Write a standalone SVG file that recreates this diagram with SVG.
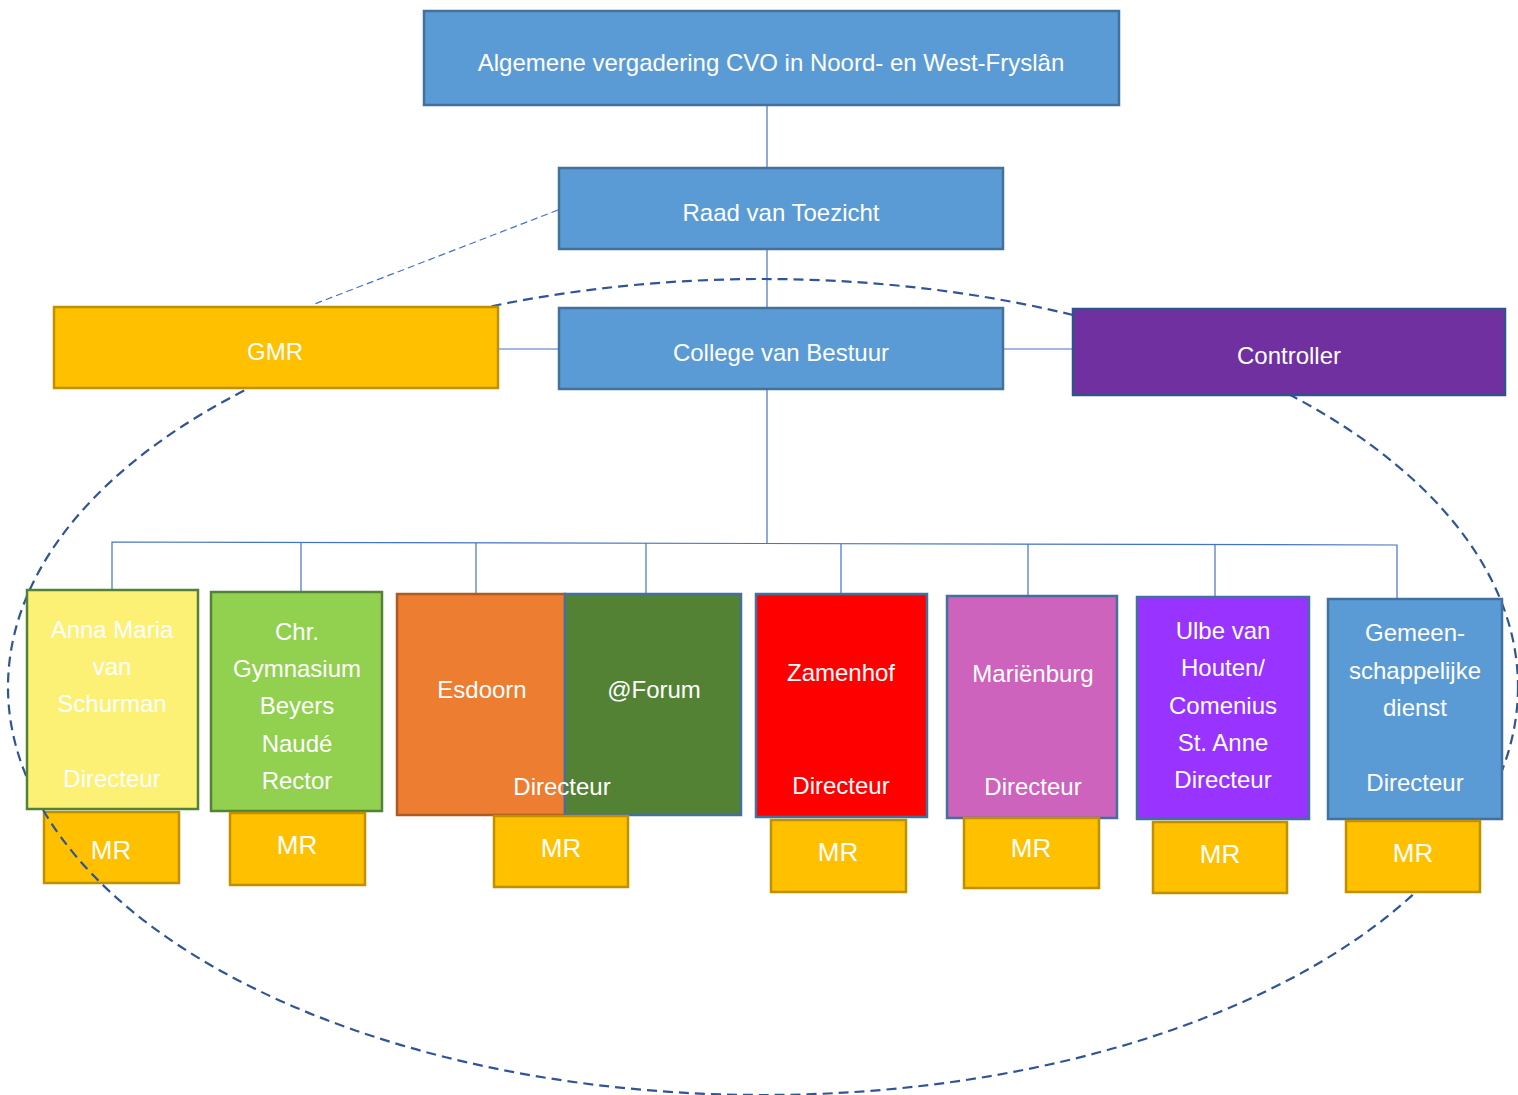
<svg xmlns="http://www.w3.org/2000/svg" width="1518" height="1095" viewBox="0 0 1518 1095">
<style>
text{font-family:"Liberation Sans",Arial,sans-serif;fill:#fff;text-anchor:middle;dominant-baseline:central}
.blue{fill:#5B9BD5;stroke:#41719C;stroke-width:2.5}
.mr{fill:#FFC000;stroke:#BF9000;stroke-width:2.5}
.t22{font-size:24px}.t24{font-size:24px}.t26{font-size:26px}
.conn{stroke:#4472C4;stroke-width:1.2;fill:none}
</style>
<rect width="1518" height="1095" fill="#fff"/>
<g id="connectors">
<line class="conn" x1="767" y1="105" x2="767" y2="168"/>
<line class="conn" x1="767" y1="249" x2="767" y2="308"/>
<line class="conn" x1="767" y1="389" x2="767" y2="543"/>
<polyline class="conn" points="112,590 112,542 1397,545 1397,599"/>
<line class="conn" x1="301" y1="543" x2="301" y2="592"/>
<line class="conn" x1="476" y1="543" x2="476" y2="594"/>
<line class="conn" x1="646" y1="543" x2="646" y2="594"/>
<line class="conn" x1="841" y1="544" x2="841" y2="594"/>
<line class="conn" x1="1028" y1="544" x2="1028" y2="596"/>
<line class="conn" x1="1215" y1="544" x2="1215" y2="597"/>
<line class="conn" x1="498" y1="349" x2="559" y2="349"/>
<line class="conn" x1="1003" y1="349" x2="1073" y2="349"/>
<line class="conn" x1="558" y1="210" x2="312" y2="305" stroke-dasharray="7,4"/>
</g>
<g id="mr-anna"><rect class="mr" x="44" y="812" width="135" height="71"/><text class="t26" x="111" y="850">MR</text></g>
<g id="ellipse"><ellipse cx="763" cy="687" rx="755" ry="408" fill="none" stroke="#2F5597" stroke-width="2.2" stroke-dasharray="10,6"/></g>
<g id="top"><rect class="blue" x="424" y="11" width="695" height="94"/><text class="t22" x="771" y="62">Algemene vergadering CVO in Noord- en West-Fryslân</text></g>
<g id="raad"><rect class="blue" x="559" y="168" width="444" height="81"/><text class="t22" x="781" y="212">Raad van Toezicht</text></g>
<g id="college"><rect class="blue" x="559" y="308" width="444" height="81"/><text class="t22" x="781" y="352">College van Bestuur</text></g>
<g id="gmr"><rect class="mr" x="54" y="307" width="444" height="81"/><text class="t24" x="275" y="351">GMR</text></g>
<g id="controller"><rect x="1073" y="309" width="432" height="86" fill="#7030A0" stroke="#2F528F" stroke-width="2.5"/><text class="t22" x="1289" y="355">Controller</text></g>
<g id="anna"><rect x="27" y="590" width="171" height="219" fill="#FCF175" stroke="#548235" stroke-width="2.5"/>
<text class="t22" x="112" y="629">Anna Maria</text><text class="t22" x="112" y="666">van</text><text class="t22" x="112" y="703">Schurman</text><text class="t22" x="112" y="778">Directeur</text></g>
<g id="chr"><rect x="211" y="592" width="171" height="219" fill="#92D050" stroke="#548235" stroke-width="2.5"/>
<text class="t22" x="297" y="631">Chr.</text><text class="t22" x="297" y="668">Gymnasium</text><text class="t22" x="297" y="705">Beyers</text><text class="t22" x="297" y="743">Naudé</text><text class="t22" x="297" y="780">Rector</text></g>
<g id="mr-chr"><rect class="mr" x="230" y="813" width="135" height="72"/><text class="t26" x="297" y="845">MR</text></g>
<g id="esdoorn"><rect x="397" y="594" width="168" height="221" fill="#ED7D31" stroke="#AE5A21" stroke-width="2.5"/><text class="t22" x="482" y="689">Esdoorn</text></g>
<g id="forum"><rect x="565" y="594" width="176" height="221" fill="#548235" stroke="#41719C" stroke-width="2.5"/><text class="t22" x="654" y="689">@Forum</text></g>
<g id="esdoorn-forum-dir"><text class="t22" x="562" y="786">Directeur</text></g>
<g id="mr-esdoorn"><rect class="mr" x="494" y="816" width="134" height="71"/><text class="t26" x="561" y="848">MR</text></g>
<g id="zamenhof"><rect x="756" y="594" width="171" height="223" fill="#FF0000" stroke="#41719C" stroke-width="2.5"/><text class="t22" x="841" y="672">Zamenhof</text><text class="t22" x="841" y="785">Directeur</text></g>
<g id="mr-zamenhof"><rect class="mr" x="771" y="820" width="135" height="72"/><text class="t26" x="838" y="852">MR</text></g>
<g id="marienburg"><rect x="947" y="596" width="170" height="222" fill="#CD63BC" stroke="#41719C" stroke-width="2.5"/><text class="t22" x="1033" y="673">Mariënburg</text><text class="t22" x="1033" y="786">Directeur</text></g>
<g id="mr-marienburg"><rect class="mr" x="964" y="818" width="135" height="70"/><text class="t26" x="1031" y="848">MR</text></g>
<g id="ulbe"><rect x="1137" y="597" width="172" height="222" fill="#9933FF" stroke="#41719C" stroke-width="2.5"/>
<text class="t22" x="1223" y="630">Ulbe van</text><text class="t22" x="1223" y="667">Houten/</text><text class="t22" x="1223" y="705">Comenius</text><text class="t22" x="1223" y="742">St. Anne</text><text class="t22" x="1223" y="779">Directeur</text></g>
<g id="mr-ulbe"><rect class="mr" x="1153" y="822" width="134" height="71"/><text class="t26" x="1220" y="854">MR</text></g>
<g id="gemeen"><rect class="blue" x="1328" y="599" width="174" height="220"/>
<text class="t22" x="1415" y="632">Gemeen-</text><text class="t22" x="1415" y="670">schappelijke</text><text class="t22" x="1415" y="707">dienst</text><text class="t22" x="1415" y="782">Directeur</text></g>
<g id="mr-gemeen"><rect class="mr" x="1346" y="821" width="134" height="71"/><text class="t26" x="1413" y="853">MR</text></g>
</svg>
